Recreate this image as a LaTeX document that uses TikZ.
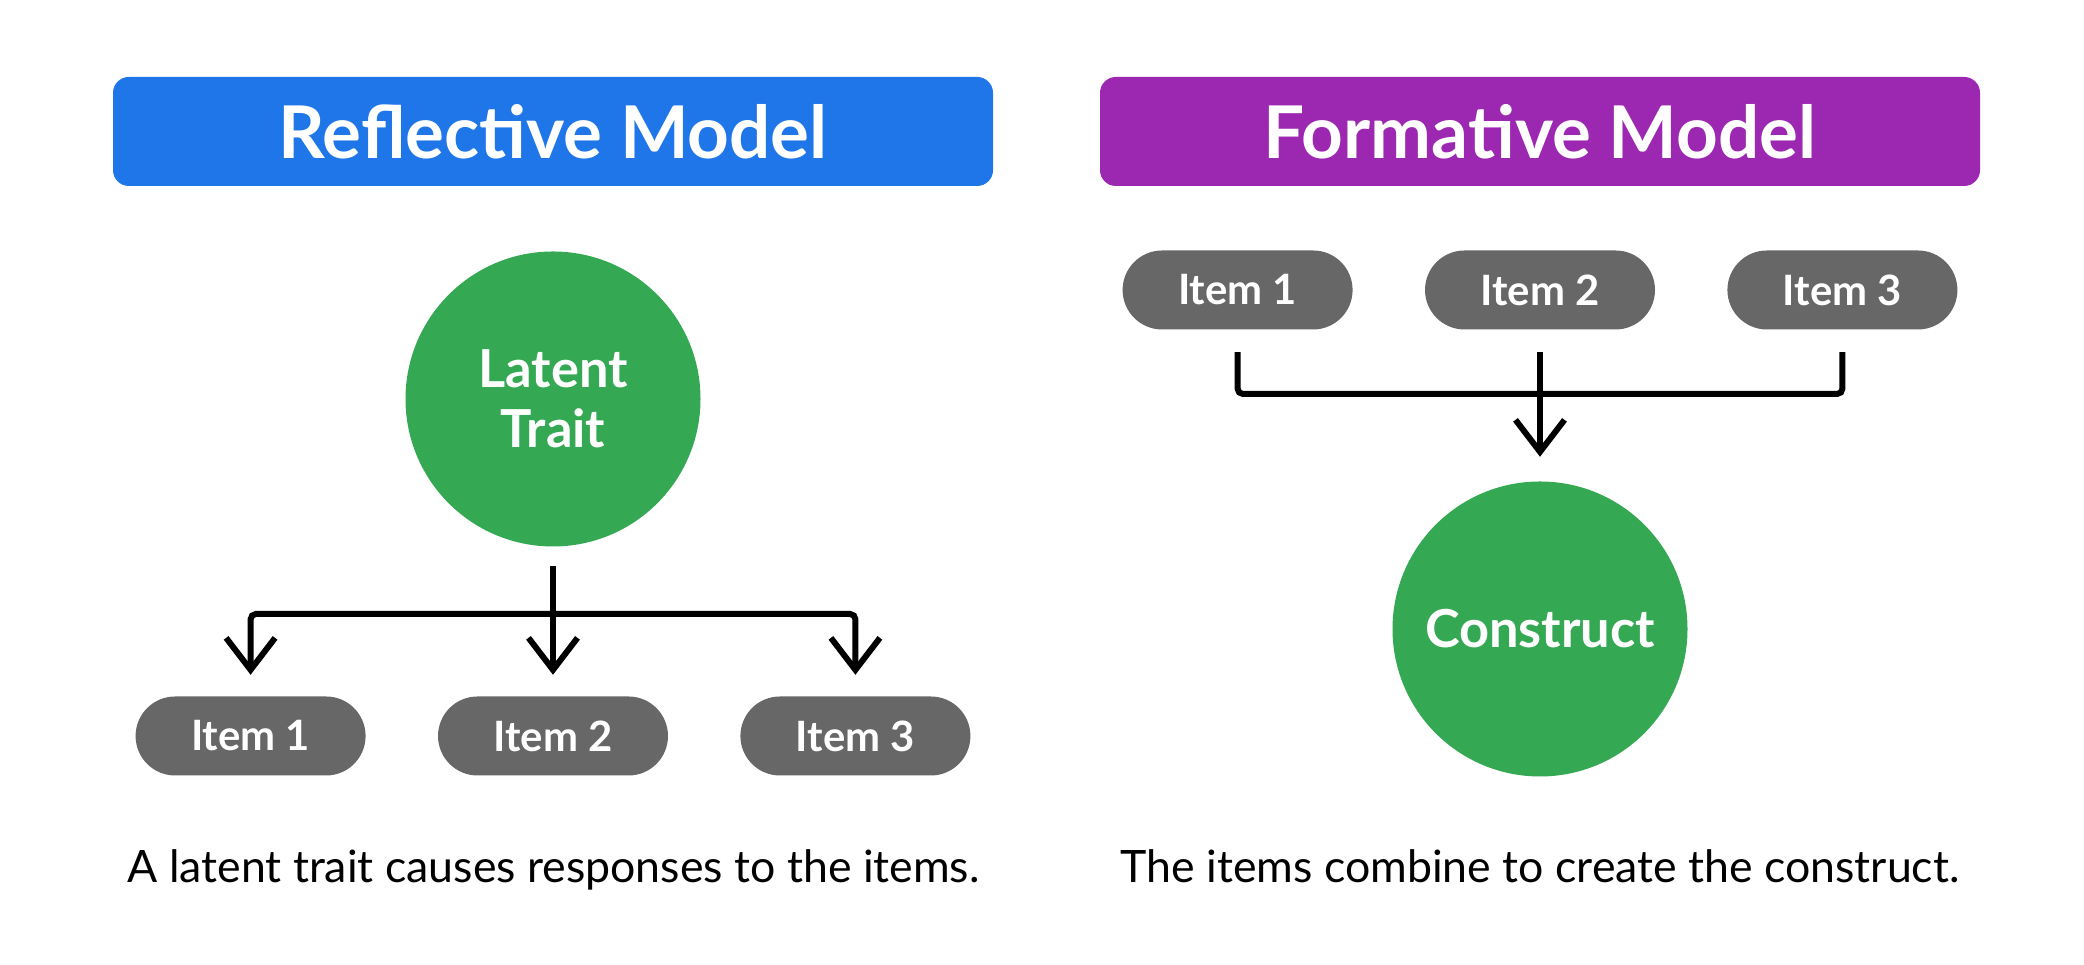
\documentclass[tikz,border=0pt]{standalone}
\usepackage{fontspec}
\setmainfont{Lato}
\usepackage{xcolor}
\definecolor{cBlue}{HTML}{1E76E8}
\definecolor{cPurple}{HTML}{9C27B0}
\definecolor{cGreen}{HTML}{34A853}
\definecolor{cItem}{HTML}{666766}
\usepackage{tikz}
\usetikzlibrary{positioning,arrows.meta,shapes.misc}
\tikzset{
  node-head/.style={rounded corners=4.5pt,minimum width=88mm,minimum height=10.9mm,
    text=white,font=\fontsize{20.7}{24}\selectfont\bfseries},
  node-head-refl/.style={fill=cBlue},
  node-head-form/.style={fill=cPurple},
  node-circle/.style={circle,fill=cGreen,minimum size=29.5mm,inner sep=0pt,
    align=center,text=white,font=\fontsize{14.9}{17}\selectfont\bfseries},
  node-item/.style={rounded rectangle,fill=cItem,minimum width=23mm,minimum height=7.9mm,
    inner sep=0pt,text=white,font=\fontsize{11.9}{14}\selectfont\bfseries},
  node-caption/.style={anchor=base,font=\fontsize{12.7}{15}\selectfont},
  link/.style={line width=1.7pt,draw=black,rounded corners=1.5pt},
  arrow/.style={link,-{Straight Barb[length=3.2mm,width=4.9mm]}},
  arrow-both/.style={link,{Straight Barb[length=3.2mm,width=4.9mm]}-{Straight Barb[length=3.2mm,width=4.9mm]}},
}

\begin{document}
\begin{tikzpicture}[node distance=7.1mm]
  \useasboundingbox (0,0) rectangle (20.84,9.65);
  % reflective side
  \node[node-head,node-head-refl] (hdr-refl) at (5.53,8.335) {Reflective Model};
  \node[node-circle] (trait) at (5.53,5.66) {Latent\\Trait};
  \node[node-item] (ref-i2) at (5.53,2.29) {Item 2};
  \node[node-item,left=of ref-i2] (ref-i1) {Item 1};
  \node[node-item,right=of ref-i2] (ref-i3) {Item 3};
  \coordinate (ref-bar) at (5.53,3.51);
  \draw[arrow,shorten <=1.9mm,shorten >=2.1mm] (trait.south) -- (ref-i2.north);
  \draw[arrow-both,shorten <=2.1mm,shorten >=2.1mm] (ref-i1.north) -- (ref-i1 |- ref-bar)
    -- (ref-i3 |- ref-bar) -- (ref-i3.north);
  \node[node-caption] (cap-refl) at (5.535,0.82) {A latent trait causes responses to the items.};
  % formative side
  \node[node-head,node-head-form] (hdr-form) at (15.40,8.335) {Formative Model};
  \node[node-item] (form-i2) at (15.40,6.75) {Item 2};
  \node[node-item,left=of form-i2] (form-i1) {Item 1};
  \node[node-item,right=of form-i2] (form-i3) {Item 3};
  \node[node-circle] (construct) at (15.40,3.36) {Construct};
  \coordinate (form-bar) at (15.40,5.71);
  \draw[link,shorten <=2.2mm,shorten >=2.2mm] (form-i1.south) -- (form-i1 |- form-bar)
    -- (form-i3 |- form-bar) -- (form-i3.south);
  \draw[arrow,shorten <=2.2mm,shorten >=2.4mm] (form-i2.south) -- (construct.north);
  \node[node-caption] (cap-form) at (15.40,0.82) {The items combine to create the construct.};
\end{tikzpicture}
\end{document}
